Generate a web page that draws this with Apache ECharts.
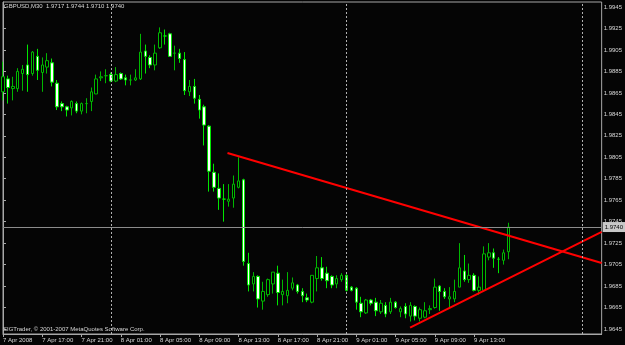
<!DOCTYPE html>
<html>
<head>
<meta charset="utf-8">
<script src="https://cdn.jsdelivr.net/npm/echarts@6/dist/echarts.min.js"></script>
<style>
  html, body { margin: 0; padding: 0; background: #000; }
  #chartmain { width: 625px; height: 345px; }
</style>
</head>
<body>
<div id="chartmain"></div>
<script>
// GBPUSD M30, 7 Apr 2008 13:00 .. 9 Apr 2008 16:30
var opens = [1.9866,1.9878,1.9869,1.9869,1.9883,1.9891,1.9883,1.9899,1.9884,1.9889,
	1.9893,1.9874,1.9855,1.9852,1.9851,1.9855,1.9848,1.9855,1.9857,1.9864,
	1.9879,1.9881,1.9882,1.9876,1.9883,1.9879,1.9877,1.9877,1.9878,1.9904,
	1.9898,1.9891,1.9907,1.9918,1.9920,1.9902,1.9902,1.9896,1.9866,1.9871,
	1.9859,1.9852,1.9834,1.9791,1.9776,1.9766,1.9764,1.9767,1.9777,1.9784,
	1.9706,1.9687,1.9694,1.9671,1.9677,1.9687,1.9697,1.9677,1.9676,1.9683,
	1.9686,1.9680,1.9674,1.9670,1.9692,1.9702,1.9697,1.9694,1.9687,1.9691,
	1.9695,1.9684,1.9683,1.9669,1.9660,1.9672,1.9670,1.9661,1.9667,1.9661,
	1.9670,1.9661,1.9666,1.9657,1.9666,1.9655,1.9656,1.9663,1.9665,1.9685,
	1.9680,1.9673,1.9673,1.9684,1.9699,1.9691,1.9695,1.9681,1.9681,1.9712,
	1.9716,1.9710,1.9709,1.9717];
var closes = [1.9880,1.9870,1.9871,1.9885,1.9887,1.9882,1.9903,1.9886,1.9891,1.9895,
	1.9875,1.9852,1.9852,1.9849,1.9857,1.9848,1.9855,1.9855,1.9866,1.9878,
	1.9880,1.9881,1.9876,1.9882,1.9878,1.9877,1.9877,1.9879,1.9903,1.9899,
	1.9891,1.9902,1.9921,1.9918,1.9899,1.9902,1.9897,1.9867,1.9871,1.9860,
	1.9849,1.9835,1.9792,1.9777,1.9767,1.9766,1.9766,1.9780,1.9783,1.9708,
	1.9686,1.9694,1.9673,1.9680,1.9691,1.9698,1.9679,1.9680,1.9681,1.9688,
	1.9680,1.9676,1.9672,1.9695,1.9702,1.9692,1.9690,1.9686,1.9692,1.9695,
	1.9681,1.9681,1.9670,1.9661,1.9672,1.9669,1.9662,1.9669,1.9659,1.9670,
	1.9665,1.9664,1.9659,1.9667,1.9657,1.9663,1.9662,1.9664,1.9684,1.9680,
	1.9675,1.9675,1.9680,1.9702,1.9691,1.9695,1.9681,1.9684,1.9715,1.9716,
	1.9711,1.9710,1.9716,1.9740];
var lows = [1.9858,1.9855,1.9858,1.9866,1.9867,1.9866,1.9881,1.9877,1.9866,1.9883,
	1.9871,1.9849,1.9848,1.9843,1.9844,1.9846,1.9845,1.9846,1.9848,1.9864,
	1.9876,1.9874,1.9875,1.9875,1.9877,1.9872,1.9872,1.9876,1.9877,1.9883,
	1.9888,1.9886,1.9906,1.9910,1.9899,1.9886,1.9893,1.9863,1.9862,1.9855,
	1.9841,1.9816,1.9773,1.9773,1.9756,1.9745,1.9759,1.9758,1.9776,1.9704,
	1.9680,1.9680,1.9665,1.9663,1.9675,1.9678,1.9667,1.9667,1.9669,1.9681,
	1.9678,1.9670,1.9670,1.9669,1.9680,1.9690,1.9683,1.9683,1.9683,1.9689,
	1.9680,1.9680,1.9663,1.9656,1.9659,1.9667,1.9657,1.9659,1.9656,1.9659,
	1.9664,1.9656,1.9655,1.9652,1.9653,1.9652,1.9655,1.9659,1.9664,1.9662,
	1.9673,1.9665,1.9670,1.9684,1.9689,1.9688,1.9680,1.9677,1.9680,1.9709,
	1.9702,1.9697,1.9705,1.9710];
var highs = [1.9894,1.9881,1.9880,1.9888,1.9891,1.9910,1.9904,1.9906,1.9898,1.9902,
	1.9897,1.9877,1.9857,1.9853,1.9858,1.9857,1.9856,1.9860,1.9870,1.9882,
	1.9885,1.9887,1.9884,1.9889,1.9884,1.9882,1.9882,1.9887,1.9920,1.9910,
	1.9900,1.9910,1.9926,1.9924,1.9921,1.9909,1.9906,1.9903,1.9877,1.9878,
	1.9863,1.9854,1.9835,1.9799,1.9790,1.9780,1.9780,1.9788,1.9805,1.9785,
	1.9716,1.9698,1.9695,1.9689,1.9692,1.9698,1.9704,1.9691,1.9698,1.9693,
	1.9687,1.9683,1.9678,1.9695,1.9713,1.9712,1.9703,1.9695,1.9695,1.9697,
	1.9696,1.9685,1.9684,1.9675,1.9673,1.9673,1.9674,1.9672,1.9670,1.9674,
	1.9671,1.9666,1.9669,1.9670,1.9667,1.9665,1.9670,1.9667,1.9692,1.9686,
	1.9683,1.9684,1.9691,1.9725,1.9714,1.9706,1.9697,1.9694,1.9722,1.9725,
	1.9720,1.9712,1.9719,1.9744];

var slotCount = 123; // bars + empty shift area on the right
var xTickLabels = ['7 Apr 2008', '7 Apr 17:00', '7 Apr 21:00', '8 Apr 01:00', '8 Apr 05:00',
	'8 Apr 09:00', '8 Apr 13:00', '8 Apr 17:00', '8 Apr 21:00', '9 Apr 01:00',
	'9 Apr 05:00', '9 Apr 09:00', '9 Apr 13:00'];
var yTickValues = [1.9645, 1.9665, 1.9685, 1.9705, 1.9725, 1.9745, 1.9765, 1.9785,
	1.9805, 1.9825, 1.9845, 1.9865, 1.9885, 1.9905, 1.9925, 1.9945];
var daySeparators = [22, 70, 118];
var bidPrice = 1.9740;
var trendUpper = [[45.75, 1.9809], [122, 1.97065]];
var trendLower = [[82.96, 1.96462], [122, 1.97354]];

var cats = [];
for (var i = 0; i < slotCount; i++) {
	cats.push(String(i));
}
var candles = [];
for (var i = 0; i < opens.length; i++) {
	candles.push([opens[i], closes[i], lows[i], highs[i]]);
}
var isTick = function (idx) {
	return idx % 8 === 0 && idx / 8 < xTickLabels.length;
};
var font = '"Liberation Sans", sans-serif';
var txt = '#d8d8d8';

var option = {
	backgroundColor: '#050505',
	animation: false,
	title: [{
		text: 'GBPUSD,M30  1.9717 1.9744 1.9710 1.9740',
		left: 4, top: 3, padding: 0,
		textStyle: { color: txt, fontSize: 6, fontWeight: 'normal', fontFamily: font }
	}, {
		text: 'SIGTrader, © 2001-2007 MetaQuotes Software Corp.',
		left: 3, top: 326, padding: 0,
		textStyle: { color: txt, fontSize: 6, fontWeight: 'normal', fontFamily: font }
	}],
	grid: {
		left: 2, right: 23, top: 2, bottom: 11,
		show: true, borderColor: '#a8a8a8', borderWidth: 1
	},
	xAxis: [{
		type: 'category',
		data: cats,
		boundaryGap: false,
		axisLine: { lineStyle: { color: '#a8a8a8' } },
		axisTick: { interval: function (idx) { return isTick(idx); }, length: 3, lineStyle: { color: '#a8a8a8' } },
		axisLabel: {
			interval: function (idx) { return isTick(idx); },
			formatter: function (v, idx) { return xTickLabels[idx / 8]; },
			align: 'left', margin: 3, color: txt, fontSize: 6, fontFamily: font,
			hideOverlap: false
		},
		splitLine: { show: false }
	}, {
		type: 'value', min: 0, max: slotCount - 1, show: false
	}],
	yAxis: {
		type: 'value',
		position: 'right',
		min: 1.964034,
		max: 1.994966,
		axisLine: { show: true, lineStyle: { color: '#a8a8a8' } },
		axisTick: { show: true, length: 3, customValues: yTickValues, lineStyle: { color: '#a8a8a8' } },
		axisLabel: {
			customValues: yTickValues,
			formatter: function (v) { return v.toFixed(4); },
			margin: 2, color: txt, fontSize: 6, fontFamily: font
		},
		splitLine: { show: false }
	},
	series: [{
		type: 'candlestick',
		data: candles,
		barWidth: 3,
		itemStyle: {
			color: '#000000',
			color0: '#ffffff',
			borderColor: '#00b800',
			borderColor0: '#00e600',
			borderWidth: 1
		}
	}, {
		type: 'line',
		xAxisIndex: 1,
		data: trendUpper,
		symbol: 'none',
		lineStyle: { color: '#ff0000', width: 2 },
		markLine: {
			silent: true,
			symbol: 'none',
			precision: 4,
			label: { show: false },
			data: daySeparators.map(function (d) {
				return { xAxis: d, lineStyle: { color: '#b0b0b0', width: 1, type: [2, 2] } };
			}).concat([{
				yAxis: bidPrice,
				lineStyle: { color: '#8c8c8c', width: 1, type: 'solid' },
				label: {
					show: true, position: 'end', distance: 1,
					formatter: bidPrice.toFixed(4),
					backgroundColor: '#c8c8c8', color: '#000', padding: [2, 2, 2, 2],
					fontSize: 6, fontFamily: font
				}
			}])
		}
	}, {
		type: 'line',
		xAxisIndex: 1,
		data: trendLower,
		symbol: 'none',
		lineStyle: { color: '#ff0000', width: 2 }
	}]
};
var myChart = echarts.init(document.getElementById('chartmain'));
myChart.setOption(option);
</script>
</body>
</html>
